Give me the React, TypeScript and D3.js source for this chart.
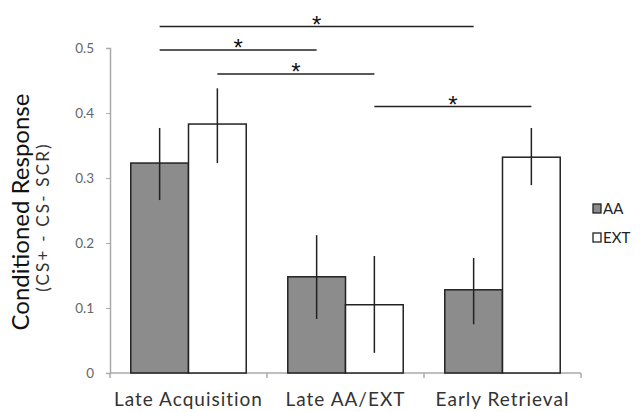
import * as d3 from 'd3';
import { useEffect, useRef } from 'react';

const categories = ['Late Acquisition', 'Late AA/EXT', 'Early Retrieval'];
const series = ['AA', 'EXT'];
const aaValues = [0.323, 0.148, 0.128];
const aaLow = [0.266, 0.083, 0.075];
const aaHigh = [0.377, 0.212, 0.177];
const extValues = [0.383, 0.105, 0.332];
const extLow = [0.323, 0.031, 0.289];
const extHigh = [0.438, 0.18, 0.377];
const yTicks = [0, 0.1, 0.2, 0.3, 0.4, 0.5];
// significance brackets: [category, series] at each end, and the level of the line
const sigFrom = [[0, 0], [0, 0], [0, 1], [1, 1]];
const sigTo = [[2, 0], [1, 0], [1, 1], [2, 1]];
const sigY = [0.533, 0.497, 0.46, 0.41];

export default function App() {
  const ref = useRef<HTMLDivElement>(null);

  useEffect(() => {
    document.body.style.margin = '0';
    document.body.style.overflow = 'hidden';

    const width = 641;
    const height = 412;
    const margin = { top: 48, right: 60, bottom: 39, left: 110 };
    const fills = ['#8c8c8c', '#ffffff'];

    const svg = d3.create('svg').attr('width', width).attr('height', height)
      .style('display', 'block').style('font-family', 'Lato, sans-serif');

    const x = d3.scaleBand().domain(categories).range([margin.left, 581]).paddingInner(0).paddingOuter(0);
    const xs = d3.scaleBand().domain(series).range([0, x.bandwidth()]).paddingInner(0).paddingOuter(0.36);
    const y = d3.scaleLinear().domain([0, 0.5]).range([373, 48]);

    // y axis
    const yAxis = d3.axisLeft(y).tickValues(yTicks).tickSize(4).tickPadding(12)
      .tickFormat(d => (d === 0 ? '0' : d3.format('.1f')(d as number)));
    const ya = svg.append('g').attr('transform', `translate(${margin.left},0)`).call(yAxis);
    ya.select('.domain').attr('stroke', '#aaa').attr('stroke-width', 1.5);
    ya.selectAll('.tick line').attr('stroke', '#aaa');
    ya.selectAll('.tick text').attr('fill', '#666').attr('font-size', 13.5).attr('font-family', 'Lato, sans-serif');

    // x axis
    const xa = svg.append('g').attr('transform', `translate(0,${y(0)})`);
    xa.append('line').attr('x1', margin.left).attr('x2', 581).attr('stroke', '#aaa').attr('stroke-width', 1.5);
    const edges = [...categories.map(c => x(c) as number), 581];
    xa.selectAll('line.tk').data(edges).join('line').attr('class', 'tk')
      .attr('x1', d => d).attr('x2', d => d).attr('y1', 0).attr('y2', 5).attr('stroke', '#aaa').attr('stroke-width', 1.5);
    xa.selectAll('text').data(categories).join('text')
      .attr('x', d => (x(d) as number) + x.bandwidth() / 2).attr('y', 33)
      .attr('text-anchor', 'middle').attr('font-size', 19).attr('letter-spacing', 1)
      .attr('fill', '#333').text(d => d);

    const vals = [aaValues, extValues];
    const lows = [aaLow, extLow];
    const highs = [aaHigh, extHigh];
    const bx = (ci: number, si: number) => (x(categories[ci]) as number) + (xs(series[si]) as number);

    series.forEach((s, si) => {
      svg.append('g').selectAll('rect').data(categories).join('rect')
        .attr('x', (_, ci) => bx(ci, si))
        .attr('y', (_, ci) => y(vals[si][ci]))
        .attr('width', xs.bandwidth())
        .attr('height', (_, ci) => y(0) - y(vals[si][ci]))
        .attr('fill', fills[si]).attr('stroke', '#222').attr('stroke-width', 1.5);
      svg.append('g').selectAll('line').data(categories).join('line')
        .attr('x1', (_, ci) => bx(ci, si) + xs.bandwidth() / 2)
        .attr('x2', (_, ci) => bx(ci, si) + xs.bandwidth() / 2)
        .attr('y1', (_, ci) => y(lows[si][ci]))
        .attr('y2', (_, ci) => y(highs[si][ci]))
        .attr('stroke', '#222').attr('stroke-width', 1.5);
    });

    // significance lines
    const sig = svg.append('g');
    sigY.forEach((lv, i) => {
      const x1 = bx(sigFrom[i][0], sigFrom[i][1]) + xs.bandwidth() / 2;
      const x2 = bx(sigTo[i][0], sigTo[i][1]) + xs.bandwidth() / 2;
      sig.append('line').attr('x1', x1).attr('x2', x2).attr('y1', y(lv)).attr('y2', y(lv))
        .attr('stroke', '#222').attr('stroke-width', 1.5);
      sig.append('text').attr('x', (x1 + x2) / 2).attr('y', y(lv) + 6)
        .attr('text-anchor', 'middle').attr('font-size', 24).attr('font-family', 'Liberation Sans, sans-serif')
        .attr('fill', '#111').text('*');
    });

    // y label
    svg.append('text').attr('transform', 'translate(29,212) rotate(-90)')
      .attr('text-anchor', 'middle').attr('font-size', 24).attr('fill', '#111').text('Conditioned Response');
    svg.append('text').attr('transform', 'translate(49,217) rotate(-90)')
      .attr('text-anchor', 'middle').attr('font-size', 17).attr('letter-spacing', 2.2)
      .attr('fill', '#333').text('(CS+ - CS- SCR)');

    // legend
    const lg = svg.append('g').attr('transform', 'translate(593,204)');
    series.forEach((s, i) => {
      lg.append('rect').attr('x', 0).attr('y', i * 29).attr('width', 8).attr('height', 9)
        .attr('fill', fills[i]).attr('stroke', '#222').attr('stroke-width', 1.3);
      lg.append('text').attr('x', 10).attr('y', i * 29 + 10).attr('font-size', 15)
        .attr('fill', '#222').text(s);
    });

    ref.current?.replaceChildren(svg.node() as SVGSVGElement);
  }, []);

  return <div ref={ref}></div>;
}
